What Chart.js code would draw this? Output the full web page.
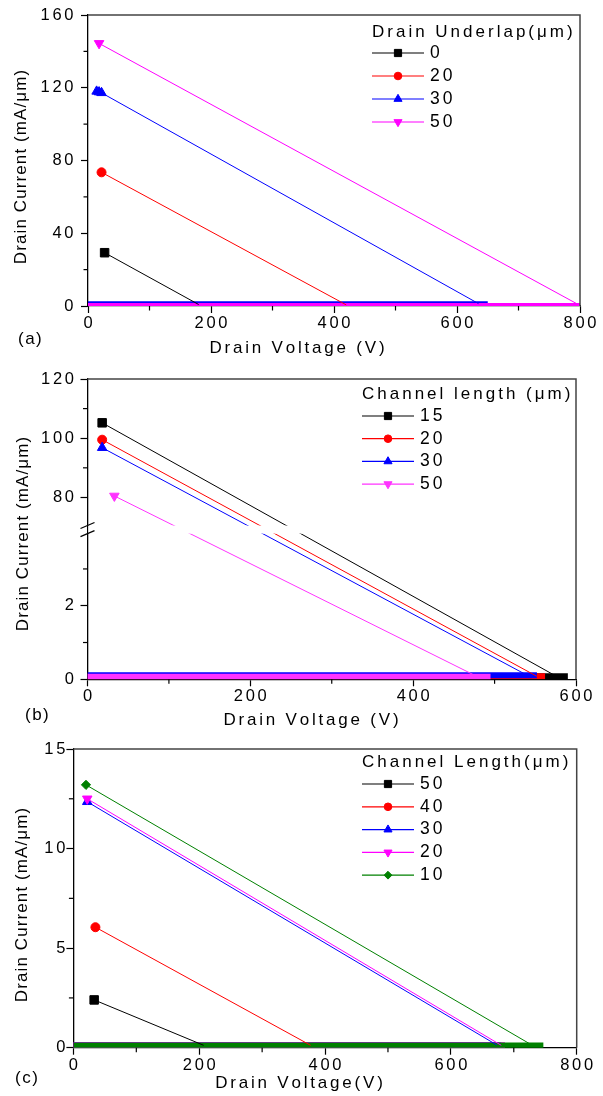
<!DOCTYPE html>
<html>
<head>
<meta charset="utf-8">
<script src="https://cdn.jsdelivr.net/npm/chart.js@4.4.1/dist/chart.umd.min.js"></script>
<style>
  html, body { margin: 0; padding: 0; background: #fff; }
  .panel { position: absolute; left: 0; width: 603px; }
</style>
</head>
<body>
<div class="panel" style="top:0;height:362px"><canvas id="chartA" width="603" height="362"></canvas></div>
<div class="panel" style="top:362px;height:368px"><canvas id="chartB" width="603" height="368"></canvas></div>
<div class="panel" style="top:730px;height:366px"><canvas id="chartC" width="603" height="366"></canvas></div>
<script>
// (a) drain underlap: first sweep point(s), collapse voltage, off-state floor
const underlapNames = ['0', '20', '30', '50'];
const underlapOnV = [[27], [22], [14, 18, 22], [18]];
const underlapOnI = [[29.3], [73.5], [118, 117.6, 117.2], [144.4]];
const underlapOffV = [180, 420, 635, 800];
const underlapFloorI = [0.8, 0.6, 1.3, 0.3];
const underlapEndV = [180, 420, 650, 800];

// (b) channel length, broken current axis
const lengthBNames = ['15', '20', '30', '50'];
const lengthBOnV = [[18], [18], [18], [33]];
const lengthBOnI = [[105.2], [99.5], [96.8], [80.5]];
const lengthBOffV = [576, 552, 540, 479];
const lengthBFloorI = [0.08, 0.08, 0.11, 0.07];
const lengthBEndV = [590, 562, 552, 495];

// (c) channel length
const lengthCNames = ['50', '40', '30', '20', '10'];
const lengthCOnV = [[33], [35], [22], [22], [20]];
const lengthCOnI = [[2.4], [6.05], [12.35], [12.5], [13.2]];
const lengthCOffV = [207, 377, 673, 680, 730];
const lengthCFloorI = [0.12, 0.12, 0.135, 0.12, 0.11];
const lengthCEndV = [207, 377, 680, 686, 747];

// tick labels
const ticksAX = [0, 200, 400, 600, 800], minorAX = [100, 300, 500, 700];
const ticksAY = [0, 40, 80, 120, 160], minorAY = [20, 60, 100, 140];
const ticksBX = [0, 200, 400, 600], minorBX = [100, 300, 500];
const ticksBY = [0, 2, 80, 100, 120], minorBY = [1, 3, 90, 110];
const ticksCX = [0, 200, 400, 600, 800], minorCX = [100, 300, 500, 700];
const ticksCY = [0, 5, 10, 15], minorCY = [2.5, 7.5, 12.5];

const fontFamily = 'Arial, "Liberation Sans", sans-serif';
Chart.defaults.font.family = fontFamily;
Chart.defaults.color = '#000';

const markerSize = { rect: 6, circle: 4.5, triangle: 5.5, rectRot: 4.6 };

// axis break for (b): values between 4 and 70 are squeezed
const gapB = [4, 70];
const splitB = [0.49, 0.507];

class BrokenScale extends Chart.LinearScale {
  getPixelForValue(value) {
    let d;
    if (value <= gapB[0]) d = (value - this.min) / (gapB[0] - this.min) * splitB[0];
    else if (value >= gapB[1]) d = splitB[1] + (value - gapB[1]) / (this.max - gapB[1]) * (1 - splitB[1]);
    else d = splitB[0] + (value - gapB[0]) / (gapB[1] - gapB[0]) * (splitB[1] - splitB[0]);
    return this.getPixelForDecimal(d);
  }
  getValueForPixel(pixel) {
    const d = this.getDecimalForPixel(pixel);
    if (d <= splitB[0]) return this.min + d / splitB[0] * (gapB[0] - this.min);
    if (d >= splitB[1]) return gapB[1] + (d - splitB[1]) / (1 - splitB[1]) * (this.max - gapB[1]);
    return gapB[0] + (d - splitB[0]) / (splitB[1] - splitB[0]) * (gapB[1] - gapB[0]);
  }
}
BrokenScale.id = 'broken';
BrokenScale.defaults = {};
Chart.register(BrokenScale);

function makeSeries(names, onV, onI, offV, floorI, endV, colors, shapes, turns, bandWidth) {
  const sets = [];
  names.forEach((name, i) => {
    const pts = onV[i].map((v, k) => ({ x: v, y: onI[i][k] }));
    pts.push({ x: offV[i], y: floorI[i] });
    const n = onV[i].length;
    const r = markerSize[shapes[i]];
    sets.push({
      label: name,
      data: pts,
      showLine: true,
      borderColor: colors[i],
      backgroundColor: colors[i],
      borderWidth: 1,
      pointStyle: shapes[i],
      pointRotation: turns[i],
      pointRadius: ctx => (ctx.dataIndex < n ? r : 0),
      markerSize: r,
      legendRow: true,
      order: 50 - i
    });
    sets.push({
      label: name + ' off',
      data: [{ x: 0, y: floorI[i] }, { x: endV[i], y: floorI[i] }],
      showLine: true,
      borderColor: colors[i],
      borderWidth: bandWidth,
      pointRadius: 0,
      order: 100 - i
    });
  });
  return sets;
}

function axis(type, ticks, min, max, fit) {
  return {
    type: type,
    min: min,
    max: max,
    border: { color: '#000', width: 1.3 },
    grid: { drawOnChartArea: false, tickLength: 7, tickColor: '#000', tickWidth: 1.2 },
    ticks: { display: false, autoSkip: false },
    afterBuildTicks: s => { s.ticks = ticks.map(v => ({ value: v })); },
    afterFit: fit
  };
}

// text with wide letter spacing, drawn glyph by glyph
function drawText(ctx, text, x, y, align, size, spacing, angle) {
  ctx.save();
  ctx.font = size + 'px ' + fontFamily;
  ctx.fillStyle = '#000';
  ctx.textAlign = 'left';
  ctx.textBaseline = 'middle';
  const chars = Array.from(text);
  const widths = chars.map(ch => ctx.measureText(ch).width);
  const total = widths.reduce((s, w) => s + w, 0) + spacing * (chars.length - 1);
  let start = align === 'center' ? -total / 2 : align === 'right' ? -total : 0;
  ctx.translate(x, y);
  if (angle) ctx.rotate(angle);
  chars.forEach((ch, k) => {
    ctx.fillText(ch, start, 0);
    start += widths[k] + spacing;
  });
  ctx.restore();
}

function seg(ctx, x1, y1, x2, y2) {
  ctx.beginPath();
  ctx.moveTo(x1, y1);
  ctx.lineTo(x2, y2);
  ctx.stroke();
}

const decor = {
  id: 'decor',
  afterDatasetsDraw(chart, args, o) {
    const ctx = chart.ctx, a = chart.chartArea;
    const xs = chart.scales.x, ys = chart.scales.y;
    ctx.save();
    if (o.gap) {
      const yTop = ys.getPixelForValue(gapB[1]) - 1.5;
      const yBot = ys.getPixelForValue(gapB[0]) + 1.5;
      ctx.fillStyle = '#fff';
      ctx.fillRect(a.left + 1, yTop, a.right - a.left - 2, yBot - yTop);
      ctx.strokeStyle = '#000';
      ctx.lineWidth = 1.2;
      [yTop, yBot].forEach(y => seg(ctx, a.left - 7, y + 3, a.left + 7, y - 3));
    }
    // frame
    ctx.strokeStyle = '#444';
    ctx.lineWidth = 1.5;
    ctx.beginPath();
    ctx.moveTo(a.left, a.top);
    ctx.lineTo(a.right, a.top);
    ctx.lineTo(a.right, a.bottom);
    ctx.stroke();
    // minor ticks
    ctx.strokeStyle = '#000';
    ctx.lineWidth = 1.2;
    o.minorX.forEach(v => { const px = xs.getPixelForValue(v); seg(ctx, px, a.bottom, px, a.bottom + 4.5); });
    o.minorY.forEach(v => { const py = ys.getPixelForValue(v); seg(ctx, a.left - 4.5, py, a.left, py); });

    // tick labels
    xs.ticks.forEach(t => drawText(ctx, String(t.value), xs.getPixelForValue(t.value), a.bottom + 17.5, 'center', 16.5, 2.7));
    ys.ticks.forEach(t => drawText(ctx, String(t.value), a.left - o.yLabelGap, ys.getPixelForValue(t.value), 'right', 16.5, 2.7));

    // legend
    const L = o.legend;
    ctx.save();
    ctx.beginPath();
    ctx.rect(0, 0, a.right - 1, chart.height);
    ctx.clip();
    drawText(ctx, L.title, L.x, L.titleY, 'left', 17, 3.0);
    ctx.restore();
    let row = 0;
    chart.data.datasets.forEach(ds => {
      if (!ds.legendRow) return;
      const y = L.rowY + row * L.rowGap;
      ctx.strokeStyle = ds.borderColor;
      ctx.lineWidth = 1.2;
      seg(ctx, L.x, y, L.x + L.lineLen, y);
      ctx.fillStyle = ds.borderColor;
      ctx.lineWidth = 1;
      Chart.helpers.drawPoint(ctx, { pointStyle: ds.pointStyle, radius: ds.markerSize * 0.85, rotation: ds.pointRotation, borderWidth: 1 }, L.x + L.lineLen / 2, y);
      drawText(ctx, ds.label, L.x + L.lineLen + 6, y, 'left', 17.5, 3.0);
      row++;
    });

    // titles
    drawText(ctx, o.xTitle.text, o.xTitle.x, o.xTitle.y, 'center', 17, 2.8);
    drawText(ctx, 'Drain Current (mA/\u03bcm)', o.yTitle.x, o.yTitle.y, 'center', 17, 1.1, -Math.PI / 2);
    drawText(ctx, o.tag.text, o.tag.x, o.tag.y, 'left', 17, 1.5);
    ctx.restore();
  }
};

function makeChart(id, datasets, xAxis, yAxis, padding, decorOpts) {
  return new Chart(document.getElementById(id), {
    type: 'scatter',
    data: { datasets: datasets },
    options: {
      responsive: false,
      animation: false,
      devicePixelRatio: 1,
      layout: { padding: padding },
      scales: { x: xAxis, y: yAxis },
      plugins: { legend: { display: false }, tooltip: { enabled: false }, decor: decorOpts },
      events: []
    },
    plugins: [decor]
  });
}

const xFit = s => { s.height = 40; s.paddingLeft = 0; s.paddingRight = 0; };
const yFit = w => s => { s.width = w; s.paddingTop = 0; s.paddingBottom = 0; };

makeChart('chartA',
  makeSeries(underlapNames, underlapOnV, underlapOnI, underlapOffV, underlapFloorI, underlapEndV,
    ['#000000', '#ff0000', '#0000ff', '#ff00ff'], ['rect', 'circle', 'triangle', 'triangle'], [0, 0, 0, 180], 5),
  axis('linear', ticksAX, 0, 800, xFit),
  axis('linear', ticksAY, 0, 160, yFit(88)),
  { left: 0, top: 15, right: 23, bottom: 16 },
  {
    minorX: minorAX, minorY: minorAY, yLabelGap: 14.5,
    legend: { title: 'Drain Underlap(\u03bcm)', x: 372, titleY: 32, rowY: 53, rowGap: 23, lineLen: 52 },
    xTitle: { text: 'Drain Voltage (V)', x: 297, y: 348 },
    yTitle: { x: 21, y: 167 },
    tag: { text: '(a)', x: 18, y: 339 }
  });

makeChart('chartB',
  makeSeries(lengthBNames, lengthBOnV, lengthBOnI, lengthBOffV, lengthBFloorI, lengthBEndV,
    ['#000000', '#ff0000', '#0000ff', '#ff33ff'], ['rect', 'circle', 'triangle', 'triangle'], [0, 0, 0, 180], 6),
  axis('linear', ticksBX, 0, 600, xFit),
  axis('broken', ticksBY, 0, 120, yFit(87.5)),
  { left: 0, top: 17, right: 27, bottom: 10.7 },
  {
    gap: true, minorX: minorBX, minorY: minorBY, yLabelGap: 13.5,
    legend: { title: 'Channel length (\u03bcm)', x: 362, titleY: 32, rowY: 54, rowGap: 22.7, lineLen: 52 },
    xTitle: { text: 'Drain Voltage (V)', x: 311, y: 358 },
    yTitle: { x: 23, y: 172 },
    tag: { text: '(b)', x: 25, y: 353 }
  });

makeChart('chartC',
  makeSeries(lengthCNames, lengthCOnV, lengthCOnI, lengthCOffV, lengthCFloorI, lengthCEndV,
    ['#000000', '#ff0000', '#0000ff', '#ff00ff', '#008000'], ['rect', 'circle', 'triangle', 'triangle', 'rectRot'], [0, 0, 0, 180, 0], 6),
  axis('linear', ticksCX, 0, 800, xFit),
  axis('linear', ticksCY, 0, 15, yFit(73.4)),
  { left: 0, top: 19, right: 26.3, bottom: 8.3 },
  {
    minorX: minorCX, minorY: minorCY, yLabelGap: 8,
    legend: { title: 'Channel Length(\u03bcm)', x: 362, titleY: 32.7, rowY: 54, rowGap: 22.8, lineLen: 52 },
    xTitle: { text: 'Drain Voltage(V)', x: 299, y: 353 },
    yTitle: { x: 22, y: 175 },
    tag: { text: '(c)', x: 15, y: 348 }
  });
</script>
</body>
</html>
